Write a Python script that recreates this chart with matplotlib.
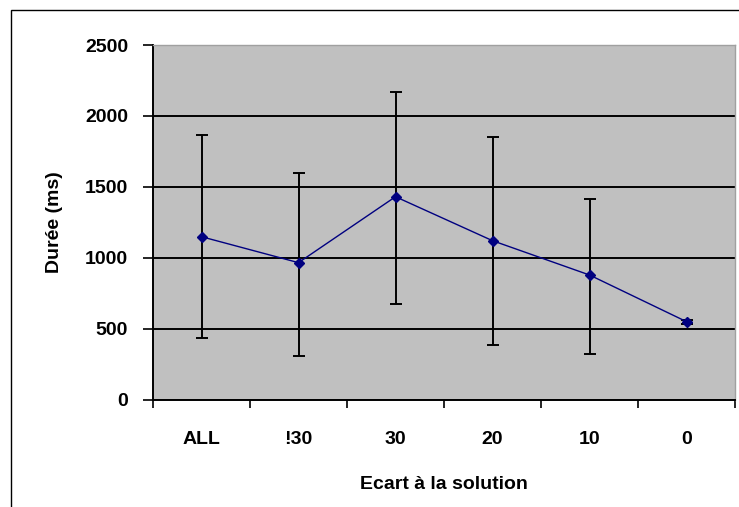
import matplotlib.pyplot as plt
from matplotlib.patches import Rectangle

# data
categories = ["ALL", "!30", "30", "20", "10", "0"]
durations = [1148, 965, 1430, 1120, 878, 549]
err_low = [432, 309, 671, 382, 319, 534]
err_high = [1865, 1595, 2171, 1853, 1414, 564]
y_ticks = [0, 500, 1000, 1500, 2000, 2500]

W, H, dpi = 739, 507, 100
fig = plt.figure(figsize=(W / dpi, H / dpi), dpi=dpi)
fig.patch.set_facecolor("white")

# outer chart border (cropped on the right and bottom in the reference)
fig.patches.append(Rectangle((11 / W, -0.05), 1.2, 1 - 10 / H + 0.05,
                             transform=fig.transFigure, fill=False,
                             edgecolor="black", linewidth=1.0))

left, right, top, bottom = 153, 735, 45, 399.5
ax = fig.add_axes([left / W, (H - bottom) / H, (right - left) / W, (bottom - top) / H])
ax.set_facecolor("#C0C0C0")

x = list(range(len(categories)))
lower = [d - lo for d, lo in zip(durations, err_low)]
upper = [hi - d for d, hi in zip(durations, err_high)]

ax.errorbar(x, durations, yerr=[lower, upper], fmt="none", ecolor="black",
            elinewidth=1.4, capsize=4, capthick=1.4, zorder=3)
ax.plot(x, durations, color="#000080", linewidth=1.0, marker="D",
        markersize=5, markerfacecolor="#000080", markeredgecolor="#000080", zorder=4)

ax.set_xlim(-0.5, len(categories) - 0.5)
ax.set_ylim(0, 2500)
ax.set_yticks(y_ticks)
ax.set_yticklabels([str(v) for v in y_ticks])
ax.yaxis.grid(True, color="black", linewidth=1.4)
ax.set_axisbelow(True)

# category ticks at boundaries, labels at centres
ax.set_xticks([i - 0.5 for i in range(len(categories) + 1)])
ax.set_xticklabels([])
ax.set_xticks(x, minor=True)
ax.set_xticklabels(categories, minor=True)
ax.tick_params(axis="x", which="major", direction="out", length=6, width=1.2, color="black")
ax.tick_params(axis="x", which="minor", length=0, pad=23)
ax.tick_params(axis="y", direction="out", length=7, width=1.2, pad=11)

fs = 14
for lab in ax.get_xticklabels(minor=True) + ax.get_yticklabels():
    lab.set_fontfamily("Liberation Sans")
    lab.set_fontweight("bold")
    lab.set_fontsize(fs)

ax.set_xlabel("Ecart à la solution", fontfamily="Liberation Sans",
              fontweight="bold", fontsize=fs, labelpad=20)
ax.set_ylabel("Durée (ms)", fontfamily="Liberation Sans",
              fontweight="bold", fontsize=fs, labelpad=16)

for side in ["left", "bottom"]:
    ax.spines[side].set_color("black")
    ax.spines[side].set_linewidth(1.4)
for side in ["top", "right"]:
    ax.spines[side].set_color("#A0A0A0")
    ax.spines[side].set_linewidth(1.0)

plt.savefig("out.png", dpi=dpi)
